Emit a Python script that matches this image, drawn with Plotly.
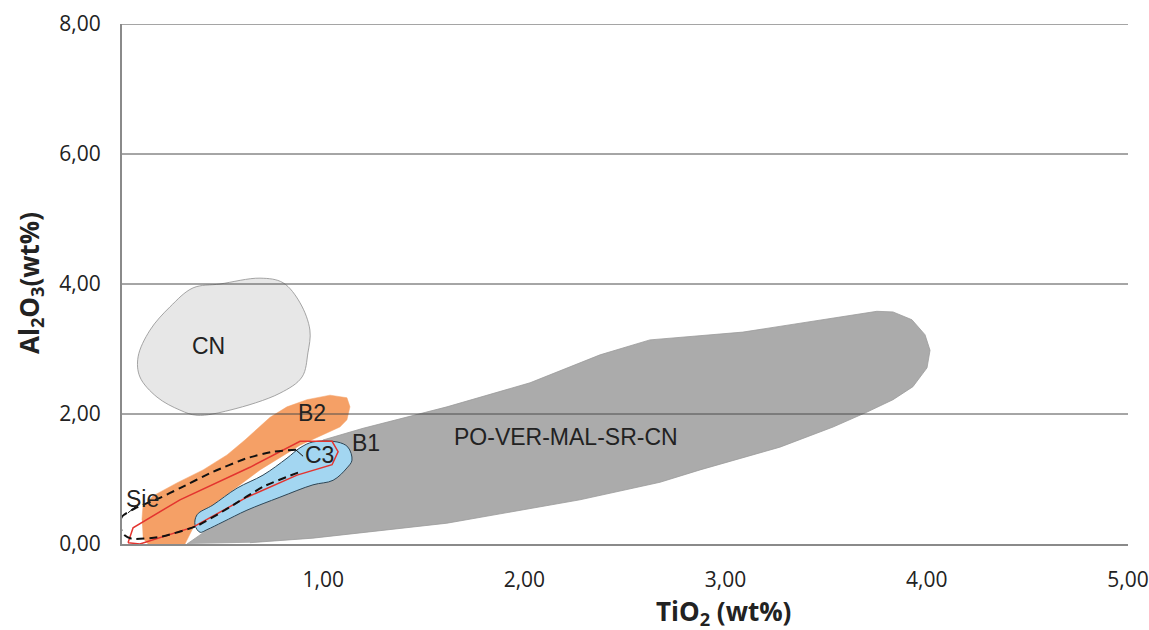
import plotly.graph_objects as go

# Compositional fields in the TiO2 - Al2O3 space (wt%)
po_x = [0.323, 0.388, 0.487, 0.686, 0.885, 0.999, 1.198, 1.615, 2.028, 2.376, 2.624, 3.086,
        3.752, 3.832, 3.926, 3.991, 4.016, 4.001, 3.931, 3.832, 3.703, 3.534, 3.270, 2.873,
        2.674, 2.276, 1.615, 0.949, 0.636]
po_y = [0.00, 0.14, 0.37, 0.83, 1.29, 1.60, 1.78, 2.11, 2.48, 2.91, 3.14, 3.26,
        3.58, 3.57, 3.45, 3.22, 2.98, 2.71, 2.42, 2.22, 2.03, 1.80, 1.49, 1.14,
        0.95, 0.68, 0.32, 0.09, 0.02]

cn_x = [0.353, 0.487, 0.686, 0.800, 0.885, 0.934, 0.924, 0.895, 0.785, 0.537, 0.373,
        0.288, 0.174, 0.089, 0.080, 0.139, 0.239, 0.353]
cn_y = [3.94, 4.00, 4.09, 4.02, 3.71, 3.29, 2.94, 2.57, 2.32, 2.06, 1.98,
        2.06, 2.26, 2.57, 2.88, 3.29, 3.65, 3.94]

b2_x = [0.099, 0.104, 0.154, 0.273, 0.403, 0.522, 0.611, 0.736, 0.820, 0.919, 1.034, 1.118,
        1.133, 1.118, 1.083, 1.019, 0.885, 0.686, 0.487, 0.373, 0.338, 0.313, 0.239, 0.139, 0.104]
b2_y = [0.37, 0.57, 0.74, 0.94, 1.14, 1.37, 1.60, 1.95, 2.11, 2.22, 2.29, 2.25,
        2.11, 1.91, 1.80, 1.71, 1.52, 1.14, 0.68, 0.37, 0.14, 0.00, -0.05, -0.03, 0.09]

b1_x = [0.949, 1.069, 1.123, 1.143, 1.118, 1.049, 0.949, 0.785, 0.621, 0.502, 0.422, 0.388,
        0.363, 0.373, 0.452, 0.572, 0.701, 0.820, 0.885, 0.949]
b1_y = [1.57, 1.57, 1.49, 1.29, 1.17, 0.98, 0.91, 0.72, 0.52, 0.34, 0.22, 0.18,
        0.29, 0.45, 0.60, 0.86, 1.06, 1.32, 1.48, 1.57]

c3_x = [0.030, 0.055, 0.288, 0.636, 0.885, 1.044, 1.074, 1.044, 0.870, 0.621, 0.353, 0.154, 0.089, 0.030]
c3_y = [0.02, 0.25, 0.68, 1.18, 1.58, 1.58, 1.42, 1.22, 1.06, 0.72, 0.26, 0.06, 0.00, 0.02]

sie_x = [0.865, 0.751, 0.621, 0.452, 0.288, 0.189, 0.065, 0.000, -0.010, 0.010, 0.050,
         0.189, 0.373, 0.537, 0.701, 0.885]
sie_y = [1.45, 1.42, 1.32, 1.11, 0.86, 0.71, 0.55, 0.42, 0.28, 0.14, 0.08,
         0.11, 0.28, 0.57, 0.88, 1.11]

# Leader strokes for the Sie and C3 labels
sie_lead_x = [0.03, 0.09]
sie_lead_y = [0.48, 0.63]
c3_lead_x = [0.86, 0.90]
c3_lead_y = [1.46, 1.35]

labels = ["CN", "B2", "B1", "C3", "Sie", "PO-VER-MAL-SR-CN"]
label_x = [0.432, 0.944, 1.213, 0.984, 0.104, 2.207]
label_y = [3.05, 2.02, 1.55, 1.37, 0.69, 1.65]

x_ticks = [1, 2, 3, 4, 5]
y_ticks = [0, 2, 4, 6, 8]
grid_levels = [2, 4, 6, 8]

x_title = "<b>TiO<sub>2</sub> (wt%)</b>"
y_title = "<b>Al<sub>2</sub>O<sub>3</sub>(wt%)</b>"

fig = go.Figure()

fig.add_trace(go.Scatter(x=po_x, y=po_y, fill="toself", mode="lines",
                         fillcolor="#ababab", line=dict(color="#9a9a9a", width=0.8)))
fig.add_trace(go.Scatter(x=cn_x, y=cn_y, fill="toself", mode="lines", line_shape="spline",
                         fillcolor="#e7e7e7", line=dict(color="#8f8f8f", width=0.8)))
fig.add_trace(go.Scatter(x=b2_x, y=b2_y, fill="toself", mode="lines",
                         fillcolor="#f5a066", line=dict(color="#f5a066", width=0.5)))
fig.add_trace(go.Scatter(x=b1_x, y=b1_y, fill="toself", mode="lines", line_shape="spline",
                         fillcolor="#a3d6f1", line=dict(color="#2e4656", width=1)))
fig.add_trace(go.Scatter(x=c3_x, y=c3_y, mode="lines",
                         line=dict(color="#e3342f", width=1.5)))
fig.add_trace(go.Scatter(x=sie_x, y=sie_y, mode="lines", line_shape="spline",
                         line=dict(color="#111111", width=2, dash="8px,5px", smoothing=0.6)))
fig.add_trace(go.Scatter(x=sie_lead_x, y=sie_lead_y, mode="lines",
                         line=dict(color="#111111", width=1)))
fig.add_trace(go.Scatter(x=c3_lead_x, y=c3_lead_y, mode="lines",
                         line=dict(color="#111111", width=1)))

for lv in grid_levels:
    fig.add_shape(type="line", xref="paper", x0=0, x1=1, yref="y", y0=lv, y1=lv,
                  line=dict(color="#4d4d4d", width=1), layer="above")

for t, lx, ly in zip(labels, label_x, label_y):
    fig.add_annotation(x=lx, y=ly, text=t, showarrow=False,
                       font=dict(family="Liberation Sans, Arial", size=23, color="#222222"))

# Axis titles
fig.add_annotation(xref="paper", yref="paper", x=0.598, y=0, yshift=-68,
                   xanchor="center", yanchor="middle", showarrow=False, text=x_title,
                   font=dict(family="Open Sans", size=26, color="#222222"))
fig.add_annotation(xref="paper", yref="paper", x=0, y=0.502, xshift=-92,
                   xanchor="center", yanchor="middle", textangle=-90, showarrow=False,
                   text=y_title, font=dict(family="Open Sans", size=26, color="#222222"))

fig.update_layout(
    width=1149, height=630,
    margin=dict(l=122, r=21, t=24, b=86),
    plot_bgcolor="white", paper_bgcolor="white",
    showlegend=False,
    separators=",.",
    xaxis=dict(range=[0, 5], tickvals=x_ticks, tickformat=".2f", automargin=False,
               showgrid=False, zeroline=False, showline=True,
               linecolor="#8a8a8a", linewidth=2, ticks="", ticklabelstandoff=16,
               tickfont=dict(family="Open Sans", size=21, color="#222222")),
    yaxis=dict(range=[0, 8], tickvals=y_ticks, tickformat=".2f", automargin=False,
               showgrid=False, zeroline=False, showline=True,
               linecolor="#8a8a8a", linewidth=2, ticks="", ticklabelstandoff=15,
               tickfont=dict(family="Open Sans", size=21, color="#222222")),
)

fig.write_html("out.html")
